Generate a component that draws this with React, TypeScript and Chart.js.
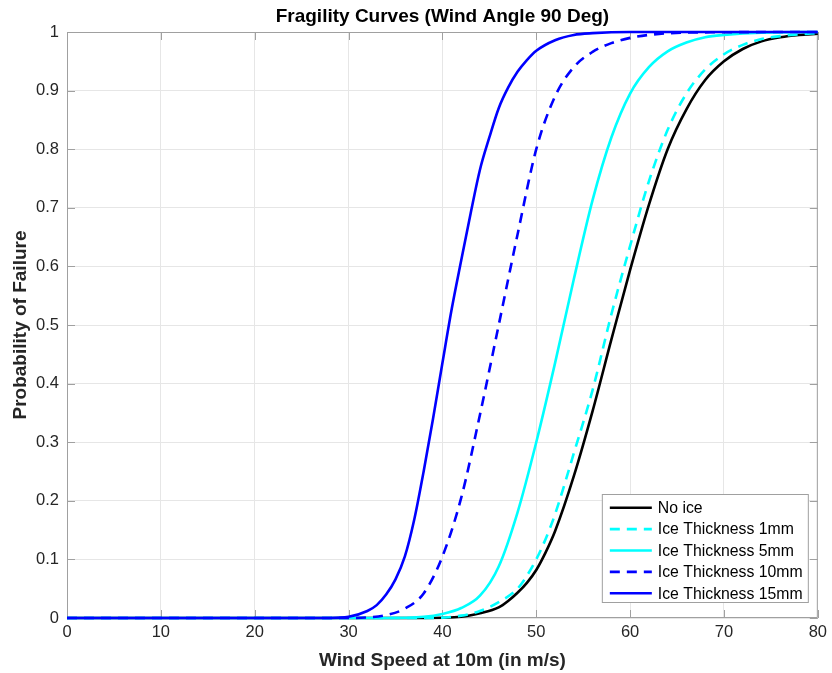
import React, { useEffect, useRef } from "react";
import { Chart, registerables } from "chart.js";

Chart.register(...registerables);

const chartTitle = "Fragility Curves (Wind Angle 90 Deg)";
const xAxisTitle = "Wind Speed at 10m (in m/s)";
const yAxisTitle = "Probability of Failure";

const xTickValues = [0, 10, 20, 30, 40, 50, 60, 70, 80];
const yTickValues = [0, 0.1, 0.2, 0.3, 0.4, 0.5, 0.6, 0.7, 0.8, 0.9, 1];

const seriesLabels = [
  "No ice",
  "Ice Thickness 1mm",
  "Ice Thickness 5mm",
  "Ice Thickness 10mm",
  "Ice Thickness 15mm",
];

// No ice (black, solid)
const noIceX = [0, 38, 42, 44, 46, 47, 48, 49, 50, 51, 52, 54, 56, 58, 60, 62, 64, 66, 68, 70, 72, 74, 76, 78, 80];
const noIceY = [0, 0, 0.002, 0.008, 0.018, 0.029, 0.043, 0.06, 0.082, 0.112, 0.148, 0.242, 0.353, 0.475, 0.594, 0.705, 0.8, 0.868, 0.918, 0.95, 0.971, 0.984, 0.991, 0.995, 0.997];

// Ice 1mm (cyan, dashed)
const ice1X = [0, 38, 42, 44, 46, 48, 49, 50, 51, 52, 54, 56, 58, 60, 62, 64, 66, 68, 70, 72, 74, 76, 78, 80];
const ice1Y = [0, 0, 0.004, 0.012, 0.027, 0.05, 0.072, 0.1, 0.135, 0.177, 0.281, 0.389, 0.518, 0.635, 0.745, 0.833, 0.895, 0.936, 0.962, 0.978, 0.988, 0.993, 0.996, 0.998];

// Ice 5mm (cyan, solid)
const ice5X = [0, 34, 38, 40, 42, 44, 46, 48, 50, 52, 54, 56, 58, 60, 62, 64, 66, 68, 70, 74, 80];
const ice5Y = [0, 0, 0.002, 0.007, 0.017, 0.038, 0.088, 0.18, 0.3, 0.435, 0.578, 0.713, 0.82, 0.895, 0.94, 0.967, 0.982, 0.991, 0.995, 0.999, 1.0];

// Ice 10mm (blue, dashed)
const ice10X = [0, 30, 32, 34, 36, 38, 40, 42, 44, 46, 48, 50, 52, 54, 56, 58, 60, 62, 66, 80];
const ice10Y = [0, 0, 0.001, 0.005, 0.016, 0.042, 0.105, 0.205, 0.347, 0.5, 0.654, 0.8, 0.89, 0.94, 0.966, 0.981, 0.99, 0.995, 0.999, 1.0];

// Ice 15mm (blue, solid)
const ice15X = [0, 28, 30, 32, 33, 34, 35, 36, 37, 38, 39, 40, 41, 42, 43, 44, 45, 46, 47, 48, 49, 50, 52, 54, 56, 60, 80];
const ice15Y = [0, 0, 0.002, 0.012, 0.022, 0.04, 0.066, 0.105, 0.168, 0.25, 0.34, 0.435, 0.528, 0.61, 0.69, 0.765, 0.82, 0.87, 0.905, 0.932, 0.952, 0.968, 0.986, 0.995, 0.998, 1.0, 1.0];

const seriesX = [noIceX, ice1X, ice5X, ice10X, ice15X];
const seriesY = [noIceY, ice1Y, ice5Y, ice10Y, ice15Y];
const seriesColors = ["#000000", "#00ffff", "#00ffff", "#0000ff", "#0000ff"];
const seriesDashed = [false, true, false, true, false];

const FONT = "'Liberation Sans', Arial, Helvetica, sans-serif";
const AXIS_COLOR = "#a0a0a0";
const GRID_COLOR = "#e6e6e6";
const TEXT_COLOR = "#262626";
const DASH = [10, 7];

const boxPlugin = {
  id: "matlabBox",
  beforeDatasetsDraw(chart: any) {
    const { ctx, chartArea: ca } = chart;
    const xs = chart.scales.x;
    const ys = chart.scales.y;
    ctx.save();
    ctx.strokeStyle = AXIS_COLOR;
    ctx.lineWidth = 1;
    ctx.beginPath();
    ctx.rect(ca.left + 0.5, ca.top + 0.5, ca.right - ca.left - 1, ca.bottom - ca.top - 1);
    ctx.stroke();
    const tl = 8;
    ctx.beginPath();
    xTickValues.forEach((v) => {
      const px = Math.round(xs.getPixelForValue(v)) + 0.5;
      ctx.moveTo(px, ca.bottom);
      ctx.lineTo(px, ca.bottom - tl);
      ctx.moveTo(px, ca.top);
      ctx.lineTo(px, ca.top + tl);
    });
    yTickValues.forEach((v) => {
      const py = Math.round(ys.getPixelForValue(v)) + 0.5;
      ctx.moveTo(ca.left, py);
      ctx.lineTo(ca.left + tl, py);
      ctx.moveTo(ca.right, py);
      ctx.lineTo(ca.right - tl, py);
    });
    ctx.stroke();
    ctx.restore();
  },
};

const titlePlugin = {
  id: "matlabTitle",
  afterDraw(chart: any) {
    const { ctx, chartArea: ca } = chart;
    ctx.save();
    ctx.font = `bold 19px ${FONT}`;
    ctx.fillStyle = "#000000";
    ctx.textAlign = "center";
    ctx.textBaseline = "middle";
    ctx.fillText(chartTitle, (ca.left + ca.right) / 2, 17);
    ctx.restore();
  },
};

const legendPlugin = {
  id: "matlabLegend",
  afterDatasetsDraw(chart: any) {
    const { ctx, chartArea: ca } = chart;
    const w = 207;
    const h = 109;
    const x = ca.right - 9 - w;
    const y = ca.bottom - 15 - h;
    ctx.save();
    ctx.fillStyle = "#ffffff";
    ctx.fillRect(x, y, w, h);
    ctx.strokeStyle = AXIS_COLOR;
    ctx.lineWidth = 1;
    ctx.strokeRect(x + 0.5, y + 0.5, w - 1, h - 1);
    ctx.font = `15.8px ${FONT}`;
    ctx.textBaseline = "middle";
    ctx.textAlign = "left";
    seriesLabels.forEach((label, i) => {
      const cy = y + 13.7 + i * 21.4;
      ctx.strokeStyle = seriesColors[i];
      ctx.lineWidth = 2.6;
      ctx.setLineDash(seriesDashed[i] ? DASH : []);
      ctx.beginPath();
      ctx.moveTo(x + 8, cy);
      ctx.lineTo(x + 50, cy);
      ctx.stroke();
      ctx.setLineDash([]);
      ctx.fillStyle = "#000000";
      ctx.fillText(label, x + 56, cy + 1);
    });
    ctx.restore();
  },
};

export default function App() {
  const canvasRef = useRef<HTMLCanvasElement | null>(null);

  useEffect(() => {
    const canvas = canvasRef.current;
    if (!canvas) return;
    const datasets = seriesLabels.map((label, i) => ({
      label,
      data: seriesX[i].map((xv, j) => ({ x: xv, y: seriesY[i][j] })),
      borderColor: seriesColors[i],
      backgroundColor: seriesColors[i],
      borderWidth: 2.6,
      borderDash: seriesDashed[i] ? DASH : [],
      pointRadius: 0,
      fill: false,
      cubicInterpolationMode: "monotone" as const,
      clip: false as any,
      order: seriesLabels.length - 1 - i,
    }));

    const chart = new Chart(canvas, {
      type: "line",
      data: { datasets },
      plugins: [boxPlugin, titlePlugin, legendPlugin],
      options: {
        animation: false,
        responsive: false,
        layout: { padding: { top: 32, right: 13, bottom: 0, left: 0 } },
        plugins: {
          legend: { display: false },
          tooltip: { enabled: false },
          title: { display: false },
        },
        scales: {
          x: {
            type: "linear",
            min: 0,
            max: 80,
            afterBuildTicks: (scale: any) => {
              scale.ticks = xTickValues.map((v) => ({ value: v }));
            },
            afterFit: (scale: any) => {
              scale.height = 55;
            },
            ticks: {
              color: TEXT_COLOR,
              font: { family: FONT, size: 16.5 },
              padding: 5,
              maxRotation: 0,
            },
            grid: { color: GRID_COLOR, drawTicks: false },
            border: { display: false },
            title: {
              display: true,
              text: xAxisTitle,
              color: TEXT_COLOR,
              font: { family: FONT, size: 19, weight: "bold" },
              padding: { top: 0, bottom: 1 },
            },
          },
          y: {
            type: "linear",
            min: 0,
            max: 1,
            afterBuildTicks: (scale: any) => {
              scale.ticks = yTickValues.map((v) => ({ value: v }));
            },
            afterFit: (scale: any) => {
              scale.width = 67;
            },
            ticks: {
              color: TEXT_COLOR,
              font: { family: FONT, size: 16.5 },
              padding: 8,
              callback: (v: any) => String(Math.round(Number(v) * 10) / 10),
            },
            grid: { color: GRID_COLOR, drawTicks: false },
            border: { display: false },
            title: {
              display: true,
              text: yAxisTitle,
              color: TEXT_COLOR,
              font: { family: FONT, size: 19, weight: "bold" },
              padding: { top: 9, bottom: 0 },
            },
          },
        },
      },
    });
    return () => chart.destroy();
  }, []);

  return (
    <div style={{ position: "fixed", left: 0, top: 0, width: 832, height: 673, background: "#ffffff" }}>
      <canvas ref={canvasRef} width={832} height={673} />
    </div>
  );
}
